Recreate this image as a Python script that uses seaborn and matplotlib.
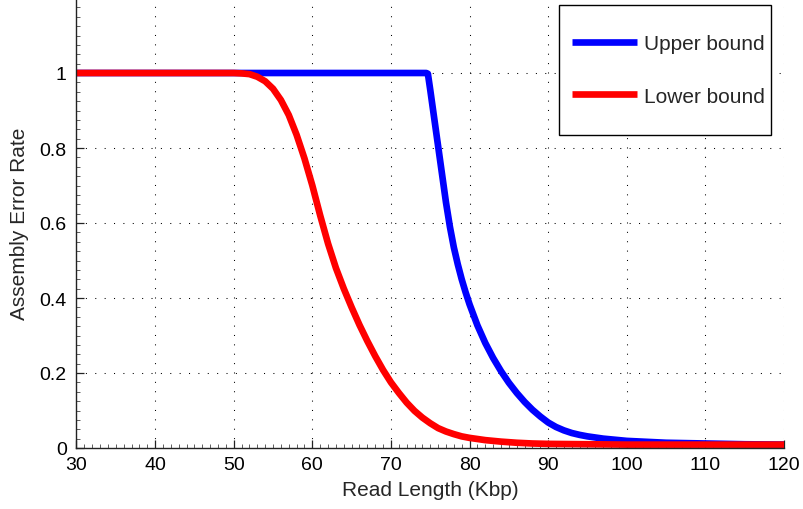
import matplotlib
matplotlib.use("Agg")
import matplotlib.pyplot as plt
from matplotlib.ticker import MultipleLocator
from matplotlib.patches import Rectangle
import seaborn as sns
import pandas as pd

# ---- data ----
upper_x = [30, 50, 70, 74.5, 74.7, 75.0, 75.5, 76.0, 76.5, 77.0, 77.5, 78.0, 78.5, 79.0,
           79.5, 80, 81, 82, 83, 84, 85, 86, 87, 88, 89, 90, 91, 92, 93, 94, 95, 96, 97,
           98, 99, 100, 102, 105, 110, 115, 120]
upper_y = [1.0, 1.0, 1.0, 1.0, 0.998, 0.955, 0.88, 0.805, 0.73, 0.655, 0.59, 0.535, 0.49, 0.45,
           0.415, 0.383, 0.327, 0.28, 0.24, 0.205, 0.174, 0.147, 0.123, 0.102, 0.084, 0.068,
           0.056, 0.047, 0.040, 0.035, 0.031, 0.028, 0.025, 0.023, 0.021, 0.019, 0.017,
           0.014, 0.012, 0.010, 0.009]

lower_x = [30, 40, 50, 51, 52, 53, 54, 55, 56, 57, 58, 59, 60, 61, 62, 63, 64, 65, 66, 67,
           68, 69, 70, 71, 72, 73, 74, 75, 76, 77, 78, 79, 80, 82, 84, 86, 88, 90, 95, 100,
           110, 120]
lower_y = [1.0, 1.0, 1.0, 0.999, 0.997, 0.99, 0.978, 0.958, 0.928, 0.888, 0.835, 0.772,
           0.700, 0.62, 0.545, 0.48, 0.425, 0.375, 0.328, 0.285, 0.245, 0.208, 0.175, 0.147,
           0.121, 0.099, 0.081, 0.066, 0.053, 0.044, 0.037, 0.031, 0.027, 0.021, 0.017,
           0.014, 0.012, 0.011, 0.010, 0.009, 0.009, 0.009]

series_names = ["Upper bound", "Lower bound"]
series_colors = ["#0000ff", "#ff0000"]

x_ticks = [30, 40, 50, 60, 70, 80, 90, 100, 110, 120]
y_ticks = [0, 0.2, 0.4, 0.6, 0.8, 1.0]
y_tick_labels = ["0", "0.2", "0.4", "0.6", "0.8", "1"]

x_label = "Read Length (Kbp)"
y_label = "Assembly Error Rate"

# ---- style ----
sns.set_style("white")
plt.rcParams["font.family"] = ["Liberation Sans", "DejaVu Sans"]

fig = plt.figure(figsize=(8.04, 5.10), dpi=100)
W, H = 804, 510
ax_left, ax_right, ax_bottom, ax_top = 76.5, 784.0, 449.0, -1.0
ax = fig.add_axes([ax_left / W, (H - ax_bottom) / H,
                   (ax_right - ax_left) / W, (ax_bottom - ax_top) / H])

df_upper = pd.DataFrame({"x": upper_x, "y": upper_y})
df_lower = pd.DataFrame({"x": lower_x, "y": lower_y})

lw = 4.8
sns.lineplot(data=df_upper, x="x", y="y", ax=ax, color=series_colors[0], linewidth=lw,
             label=series_names[0], estimator=None, sort=False,
             solid_joinstyle="round", solid_capstyle="butt")
sns.lineplot(data=df_lower, x="x", y="y", ax=ax, color=series_colors[1], linewidth=lw,
             label=series_names[1], estimator=None, sort=False,
             solid_joinstyle="round", solid_capstyle="butt")

ax.set_xlim(30, 120)
ax.set_ylim(0, 1.2)
ax.set_xticks(x_ticks)
ax.set_xticklabels([str(t) for t in x_ticks])
ax.set_yticks(y_ticks)
ax.set_yticklabels(y_tick_labels)
ax.xaxis.set_minor_locator(MultipleLocator(1))
ax.yaxis.set_minor_locator(MultipleLocator(0.025))

ax.tick_params(axis="both", which="both", bottom=True, left=True, top=False, right=False)
ax.tick_params(axis="both", which="major", direction="in", length=6, width=0.9,
               labelsize=14, colors="#222222", labelcolor="black")
ax.tick_params(axis="x", which="major", pad=6)
ax.tick_params(axis="y", which="major", pad=7)
ax.tick_params(axis="both", which="minor", direction="in", length=3, width=0.6,
               colors="#444444")

for s in ["top", "right"]:
    ax.spines[s].set_visible(False)
for s in ["left", "bottom"]:
    ax.spines[s].set_visible(True)
    ax.spines[s].set_color("#222222")
    ax.spines[s].set_linewidth(1.0)

ax.grid(True, which="major", color="black", linestyle=(0, (1, 8)), linewidth=0.75)
ax.set_axisbelow(True)

ax.set_xlabel(x_label, fontsize=15)
ax.set_ylabel(y_label, fontsize=15)
ax.xaxis.set_label_coords(0.5, -0.071)
ax.yaxis.set_label_coords(-0.067, 0.5)

# legend box (frame drawn separately to get MATLAB-like padding)
box = Rectangle((559 / W, 1 - 136 / H), 212 / W, 130 / H, transform=fig.transFigure,
                facecolor="white", edgecolor="black", linewidth=1.0, zorder=4.5,
                clip_on=False)
ax.add_patch(box)
leg = ax.legend(loc="center left", bbox_to_anchor=(572 / W, 1 - 71 / H),
                bbox_transform=fig.transFigure, borderaxespad=0, borderpad=0,
                fontsize=15, frameon=False, handlelength=3.1, handletextpad=0.35,
                labelspacing=1.6)
leg.set_zorder(5)

fig.savefig("out.png", dpi=100)
